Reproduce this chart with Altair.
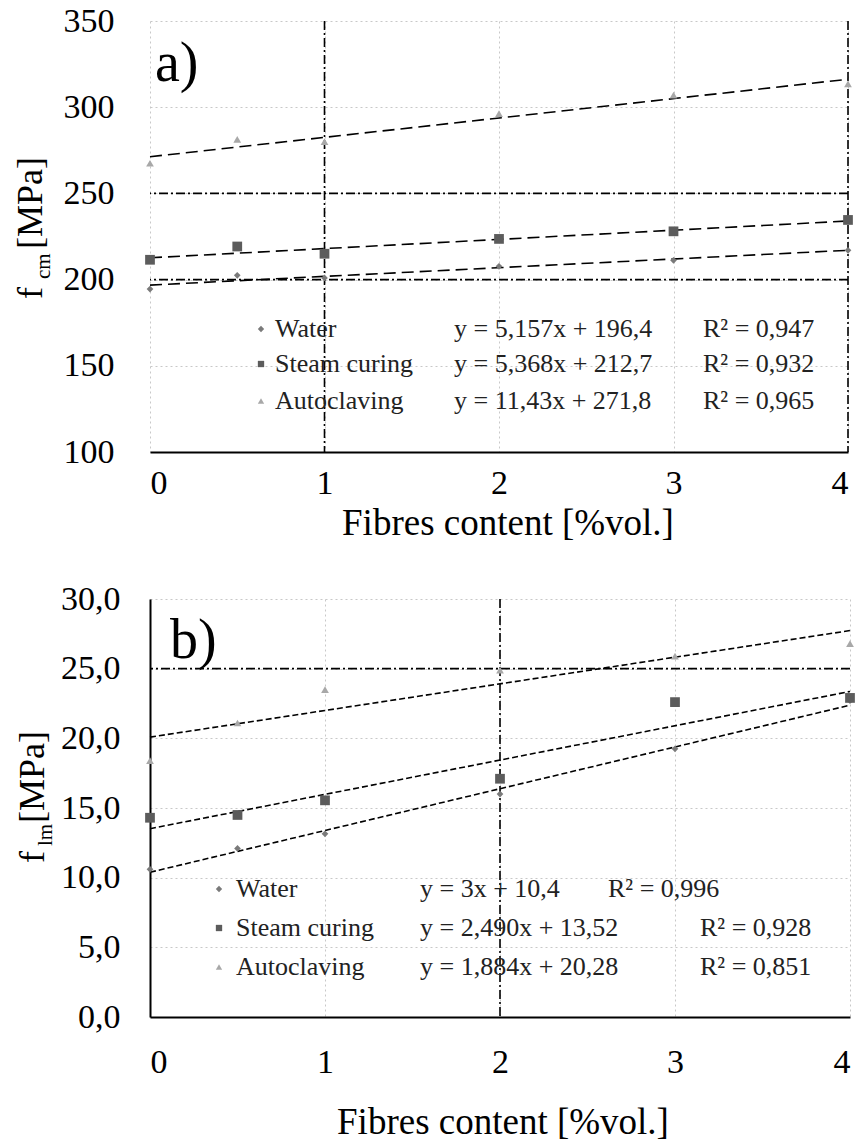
import altair as alt
import pandas as pd

FONT = "Liberation Serif"

# ---------------- data ----------------
fibres = [0, 0.5, 1, 2, 3, 4]
series_names = ["Water", "Steam curing", "Autoclaving"]
series_shapes = ["diamond", "square", "triangle-up"]
series_colors = ["#7a7a7a", "#5c5c5c", "#a8a8a8"]
series_sizes = [45, 95, 60]

# a) compressive strength f_cm [MPa]
fcm_water = [194.5, 202.5, 201.0, 207.7, 211.2, 217.0]
fcm_steam = [211.5, 219.2, 215.0, 223.6, 228.0, 234.6]
fcm_auto = [267.5, 281.3, 280.0, 296.3, 307.0, 313.5]
eq_a = ["y = 5,157x + 196,4", "y = 5,368x + 212,7", "y = 11,43x + 271,8"]
r2_a = ["R² = 0,947", "R² = 0,932", "R² = 0,965"]

# b) flexural strength f_lm [MPa]
flm_water = [10.6, 12.1, 13.15, 16.0, 19.25, 22.7]
flm_steam = [14.3, 14.5, 15.55, 17.1, 22.6, 22.9]
flm_auto = [18.4, 21.1, 23.5, 24.9, 25.9, 26.8]
eq_b = ["y = 3x + 10,4", "y = 2,490x + 13,52", "y = 1,884x + 20,28"]
r2_b = ["R² = 0,996", "R² = 0,928", "R² = 0,851"]

x_ticks = [0, 1, 2, 3, 4]
ya_ticks = [100, 150, 200, 250, 300, 350]
yb_ticks = [0, 5, 10, 15, 20, 25, 30]
a_hrules, a_vrules = [250, 200], [1, 4]
b_hrules, b_vrules = [25], [2]
x_title = "Fibres content [%vol.]"


def make_df(ys):
    rows = []
    for name, vals in zip(series_names, ys):
        for xi, yi in zip(fibres, vals):
            rows.append({"x": xi, "y": yi, "series": name})
    return pd.DataFrame(rows)


def txt(text, x, y, size, angle=0, align="left", baseline="middle", color="black"):
    return alt.Chart(pd.DataFrame({"t": [text]})).mark_text(
        font=FONT, fontSize=size, angle=angle, align=align, baseline=baseline, color=color
    ).encode(text="t:N", x=alt.value(x), y=alt.value(y))


def panel(df, ydomain, yticks, ylabel_expr, ydomain_line, hrules, vrules, trend_dash,
          width, height, xlab_pad, ylab_pad, legend, eqs, r2s, extras):
    xs = alt.Scale(domain=[0, 4], nice=False, zero=False)
    ys = alt.Scale(domain=ydomain, nice=False, zero=False)
    xaxis = alt.Axis(values=x_ticks, format="d", title=None,
                     grid=True, gridColor="#c8c8c8", gridDash=[2, 3], gridWidth=1,
                     ticks=False, tickSize=0, domain=True, domainColor="black", domainWidth=2,
                     labelFont=FONT, labelFontSize=34, labelColor="black", labelPadding=xlab_pad)
    yaxis = alt.Axis(values=yticks, labelExpr=ylabel_expr, title=None,
                     grid=True, gridColor="#c8c8c8", gridDash=[2, 3], gridWidth=1,
                     ticks=False, tickSize=0, domain=ydomain_line, domainColor="black", domainWidth=2,
                     labelFont=FONT, labelFontSize=34, labelColor="black", labelPadding=ylab_pad)
    xenc = alt.X("x:Q", scale=xs, axis=xaxis)
    yenc = alt.Y("y:Q", scale=ys, axis=yaxis)
    base = alt.Chart(df)

    layers = []
    for name, shape, color, size in zip(series_names, series_shapes, series_colors, series_sizes):
        layers.append(base.transform_filter(alt.datum.series == name).mark_point(
            filled=True, opacity=1, shape=shape, color=color, size=size, strokeWidth=0
        ).encode(x=xenc, y=yenc))
    trend = base.transform_regression("x", "y", groupby=["series"]).mark_line(
        color="black", strokeWidth=1.6, strokeDash=trend_dash
    ).encode(x=xenc, y=yenc, detail="series:N")
    hr = alt.Chart(pd.DataFrame({"y": hrules})).mark_rule(
        color="black", strokeWidth=1.6, strokeDash=[9, 3, 2, 3]
    ).encode(y=yenc)
    vr = alt.Chart(pd.DataFrame({"x": vrules})).mark_rule(
        color="black", strokeWidth=1.6, strokeDash=[9, 3, 2, 3]
    ).encode(x=xenc)

    # legend block
    lx_marker, lx_label, lx_eq, lx_r2, ly_rows = legend
    leg = []
    for i, (name, shape, color) in enumerate(zip(series_names, series_shapes, series_colors)):
        yy = ly_rows[i]
        leg.append(alt.Chart(pd.DataFrame({"s": [name]})).mark_point(
            filled=True, opacity=1, shape=shape, color=color, size=40, strokeWidth=0
        ).encode(x=alt.value(lx_marker), y=alt.value(yy)))
        leg.append(txt(name, lx_label, yy, 26, color="#222222"))
        leg.append(txt(eqs[i], lx_eq, yy, 26, color="#222222"))
        leg.append(txt(r2s[i], lx_r2[i], yy, 26, color="#222222"))

    return alt.layer(hr, vr, trend, *layers, *leg, *extras).properties(width=width, height=height)


df_a = make_df([fcm_water, fcm_steam, fcm_auto])
df_b = make_df([flm_water, flm_steam, flm_auto])

extras_a = [
    txt("a)", 5, 60, 56, baseline="alphabetic"),
    txt("f", -108, 278, 36, angle=270, baseline="alphabetic"),
    txt("cm", -100, 258, 21, angle=270, baseline="alphabetic"),
    txt("[MPa]", -108, 228, 36, angle=270, baseline="alphabetic"),
    txt(x_title, 358, 503, 37, align="center"),
]
extras_b = [
    txt("b)", 20, 59, 56, baseline="alphabetic"),
    txt("f", -106, 264, 36, angle=270, baseline="alphabetic"),
    txt("lm", -98, 247, 21, angle=270, baseline="alphabetic"),
    txt("[MPa]", -106, 224, 36, angle=270, baseline="alphabetic"),
    txt(x_title, 353, 524, 37, align="center"),
]

top = panel(df_a, [100, 350], ya_ticks, "format(datum.value, 'd')", False,
            a_hrules, a_vrules, [12, 6], 698, 431, 14, 36,
            (111, 125, 304, [553, 553, 553], [308, 343, 380]), eq_a, r2_a, extras_a)
bottom = panel(df_b, [0, 30], yb_ticks, "replace(format(datum.value, '.1f'), '.', ',')", True,
               b_hrules, b_vrules, [6, 3], 700, 418, 28, 30,
               (69, 86, 270, [458, 550, 550], [290, 329, 368]), eq_b, r2_b, extras_b)

chart = alt.vconcat(top, bottom, spacing=40).properties(
    padding={"left": 13, "top": 4, "right": 0, "bottom": 0}, background="white"
).configure_view(stroke=None)

chart.save("out.html", embed_options={"renderer": "svg", "actions": False})
